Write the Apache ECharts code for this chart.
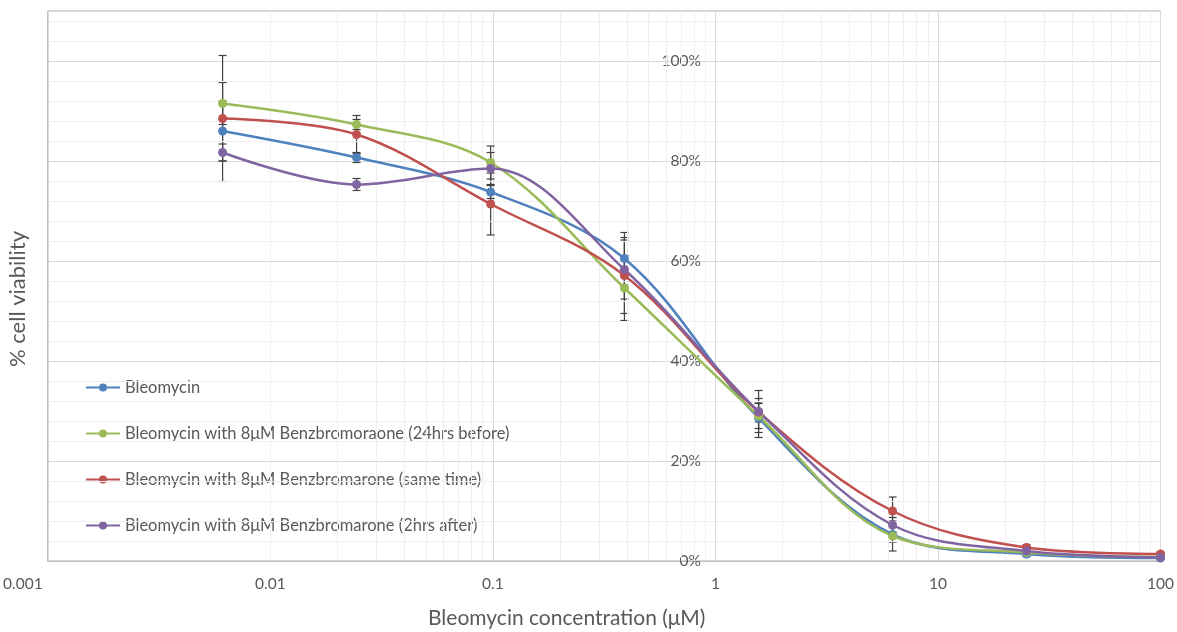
<!DOCTYPE html>
<html>
<head>
<meta charset="utf-8">
<script src="https://cdn.jsdelivr.net/npm/echarts@6/dist/echarts.min.js"></script>
<style>
	html, body { margin: 0; padding: 0; background: #fff; }
	#chart { width: 1177px; height: 632px; }
</style>
</head>
<body>
<div id="chart"></div>
<script>
// 浓度 (μM)
var concentrations = [0.0061, 0.0244, 0.0977, 0.39, 1.5625, 6.25, 25, 100];
var xTickLabels = ['0.001', '0.01', '0.1', '1', '10', '100'];

var seriesNames = [
	'Bleomycin',
	'Bleomycin with 8μM Benzbromoraone (24hrs before)',
	'Bleomycin with 8μM Benzbromarone (same time)',
	'Bleomycin with 8μM Benzbromarone (2hrs after)'
];

// % cell viability
var bleomycin = [86.0, 80.7, 73.8, 60.5, 28.6, 5.3, 1.4, 0.6];
var before24 = [91.5, 87.3, 79.7, 54.6, 29.0, 5.0, 1.7, 0.8];
var sameTime = [88.5, 85.3, 71.4, 57.1, 29.8, 10.0, 2.7, 1.4];
var after2 = [81.7, 75.3, 78.5, 58.3, 29.9, 7.2, 2.0, 0.7];

// error (±)
var bleomycinErr = [6.0, 1.0, 1.3, 5.2, 3.9, 1.5, 0.5, 0.3];
var before24Err = [4.2, 1.0, 3.3, 6.5, 2.5, 3.0, 0.5, 0.3];
var sameTimeErr = [12.6, 3.8, 6.2, 7.6, 2.0, 2.8, 0.6, 0.4];
var after2Err = [1.7, 1.2, 3.2, 5.9, 4.2, 1.5, 0.6, 0.3];

var colors = ['#4f81bd', '#9bbb59', '#c0504d', '#8064a2'];
var allValues = [bleomycin, before24, sameTime, after2];
var allErrors = [bleomycinErr, before24Err, sameTimeErr, after2Err];

var textColor = '#595959';
var fontName = 'Lato';

// 次网格线 (log 2..9, 每4%)
var minorX = [];
for (var d = -3; d < 2; d++) {
	for (var k = 2; k <= 9; k++) {
		minorX.push({ xAxis: k * Math.pow(10, d) });
	}
}
var minorY = [];
for (var v = 4; v < 110; v += 4) {
	if (v % 20 !== 0) {
		minorY.push({ yAxis: v });
	}
}

var series = [{
	name: 'grid-minor',
	type: 'line',
	data: [],
	silent: true,
	z: 0,
	markLine: {
		silent: true,
		symbol: 'none',
		label: { show: false },
		lineStyle: { color: '#efefef', width: 1, type: 'solid' },
		animation: false,
		data: minorX.concat(minorY)
	}
}];

for (var i = 0; i < allValues.length; i++) {
	var pts = [];
	var errs = [];
	for (var j = 0; j < concentrations.length; j++) {
		pts.push([concentrations[j], allValues[i][j]]);
		errs.push([concentrations[j], allValues[i][j] - allErrors[i][j], allValues[i][j] + allErrors[i][j]]);
	}
	series.push({
		name: seriesNames[i],
		type: 'line',
		smooth: 0.35,
		symbol: 'circle',
		symbolSize: 9,
		color: colors[i],
		lineStyle: { width: 2.5 },
		z: 5,
		data: pts
	});
	series.push({
		name: seriesNames[i] + ' err',
		type: 'custom',
		z: 4,
		silent: true,
		data: errs,
		renderItem: function (params, api) {
			var top = api.coord([api.value(0), api.value(2)]);
			var bot = api.coord([api.value(0), api.value(1)]);
			var hw = 4;
			var st = { stroke: '#404040', lineWidth: 1.2 };
			return {
				type: 'group',
				children: [
					{ type: 'line', shape: { x1: top[0], y1: top[1], x2: bot[0], y2: bot[1] }, style: st },
					{ type: 'line', shape: { x1: top[0] - hw, y1: top[1], x2: top[0] + hw, y2: top[1] }, style: st },
					{ type: 'line', shape: { x1: bot[0] - hw, y1: bot[1], x2: bot[0] + hw, y2: bot[1] }, style: st }
				]
			};
		}
	});
}

var myChart = echarts.init(document.getElementById('chart'));
var option = {
	animation: false,
	backgroundColor: '#fff',
	textStyle: { fontFamily: fontName },
	grid: {
		left: 46,
		right: 14,
		top: 11,
		bottom: 71,
		show: true,
		borderColor: '#a6a6a6',
		borderWidth: 1
	},
	legend: {
		orient: 'vertical',
		left: 80,
		top: 374,
		itemGap: 29,
		itemWidth: 34,
		itemHeight: 10,
		z: 1,
		textStyle: { color: textColor, fontSize: 16.5, fontFamily: fontName, textBorderWidth: 0 },
		data: seriesNames
	},
	xAxis: {
		type: 'log',
		logBase: 10,
		min: 0.001,
		max: 100,
		z: 0,
		axisLine: { show: true, lineStyle: { color: '#bfbfbf' } },
		axisTick: { show: false },
		splitLine: { show: true, lineStyle: { color: '#d9d9d9' } },
		axisLabel: {
			color: textColor,
			fontSize: 15.5,
			margin: 15,
			formatter: function (val) {
				var lab = xTickLabels[Math.round(Math.log10(val)) + 3];
				if (val < 0.002) {
					return '{a|' + lab + '}';
				}
				return lab;
			},
			rich: {
				a: { color: textColor, fontSize: 15.5, padding: [0, 50, 0, 0] }
			}
		}
	},
	yAxis: {
		type: 'value',
		min: 0,
		max: 110,
		interval: 20,
		offset: -668,
		z: 0,
		axisLine: { show: false },
		axisTick: { show: false },
		splitLine: { show: true, lineStyle: { color: '#d9d9d9' } },
		axisLabel: {
			color: textColor,
			fontSize: 15.5,
			margin: 15,
			textBorderWidth: 0,
			formatter: function (val) {
				return val > 100 ? '' : val + '%';
			}
		}
	},
	graphic: [{
		type: 'text',
		left: 428,
		top: 608,
		style: {
			text: 'Bleomycin concentration (μM)',
			fill: textColor,
			fontSize: 21,
			fontFamily: fontName
		}
	}, {
		type: 'text',
		rotation: Math.PI / 2,
		x: 7,
		y: 367,
		style: {
			text: '% cell viability',
			fill: textColor,
			fontSize: 22,
			fontFamily: fontName,
			textVerticalAlign: 'top'
		}
	}],
	series: series
};
myChart.setOption(option);
</script>
</body>
</html>
